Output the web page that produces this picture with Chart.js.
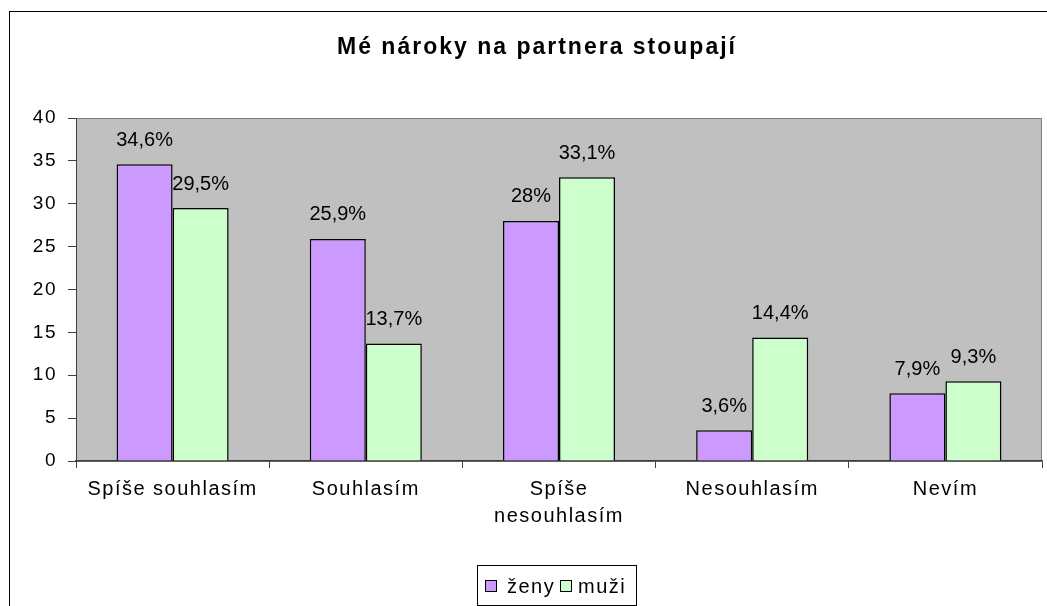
<!DOCTYPE html>
<html>
<head>
<meta charset="utf-8">
<script src="https://cdn.jsdelivr.net/npm/chart.js@4"></script>
<style>
  html, body { margin: 0; padding: 0; background: #fff; }
  #wrap { width: 1047px; height: 606px; }
</style>
</head>
<body>
<div id="wrap"><canvas id="chart" width="1047" height="606"></canvas></div>
<script>
// --- data ---
const categories = ['Spíše souhlasím', 'Souhlasím', ['Spíše', 'nesouhlasím'], 'Nesouhlasím', 'Nevím'];
const zenyValues = [34.6, 25.9, 28, 3.6, 7.9];
const muziValues = [29.5, 13.7, 33.1, 14.4, 9.3];
const seriesNames = ['ženy', 'muži'];
const yTicks = [0, 5, 10, 15, 20, 25, 30, 35, 40];
const chartTitle = 'Mé nároky na partnera stoupají';

const FONT = "'Liberation Sans', Arial, sans-serif";
const PURPLE = '#CC99FF', GREEN = '#CCFFCC', PLOT_BG = '#C0C0C0';

const fmt = v => String(v).replace('.', ',') + '%';

// frame, plot background, title, legend and value labels
const excelLook = {
  id: 'excelLook',
  beforeDraw(chart) {
    const { ctx, chartArea: a } = chart;
    ctx.save();
    ctx.fillStyle = '#fff';
    ctx.fillRect(0, 0, chart.width, chart.height);
    // outer frame (cut off at right / bottom like the original)
    ctx.strokeStyle = '#000'; ctx.lineWidth = 1;
    ctx.strokeRect(9.5, 11.5, 1100, 700);
    // plot area
    ctx.fillStyle = PLOT_BG;
    ctx.fillRect(a.left, a.top, a.right - a.left, a.bottom - a.top);
    ctx.strokeStyle = '#808080';
    ctx.strokeRect(a.left + 0.5, a.top + 0.5, a.right - a.left - 1, a.bottom - a.top);
    // title
    ctx.fillStyle = '#000';
    ctx.font = 'bold 23px ' + FONT;
    ctx.letterSpacing = '2px';
    ctx.textAlign = 'center'; ctx.textBaseline = 'middle';
    ctx.fillText(chartTitle, 537, 48);
    ctx.restore();
    // wide Excel-like spacing for the axis labels
    ctx.letterSpacing = '1.5px';
  },
  afterDatasetsDraw(chart) {
    const { ctx } = chart;
    ctx.save();
    ctx.letterSpacing = '0px';
    ctx.fillStyle = '#000';
    ctx.font = '20px ' + FONT;
    ctx.textAlign = 'center'; ctx.textBaseline = 'middle';
    chart.data.datasets.forEach((ds, di) => {
      chart.getDatasetMeta(di).data.forEach((bar, i) => {
        ctx.fillText(fmt(ds.data[i]), bar.x, bar.y - 24);
      });
    });
    ctx.restore();
  },
  afterDraw(chart) {
    const { ctx } = chart;
    ctx.save();
    // legend box
    ctx.fillStyle = '#fff';
    ctx.fillRect(477, 565, 160, 41);
    ctx.strokeStyle = '#000'; ctx.lineWidth = 1;
    ctx.strokeRect(477.5, 565.5, 159, 40);
    ctx.font = '20px ' + FONT;
    ctx.letterSpacing = '1.5px';
    ctx.textAlign = 'left'; ctx.textBaseline = 'middle';
    const items = [[485, 507], [560, 578]];
    chart.data.datasets.forEach((ds, di) => {
      const [bx, tx] = items[di];
      ctx.fillStyle = ds.backgroundColor;
      ctx.fillRect(bx, 580, 12, 12);
      ctx.strokeStyle = '#000';
      ctx.strokeRect(bx + 0.5, 580.5, 11, 11);
      ctx.fillStyle = '#000';
      ctx.fillText(ds.label, tx, 587);
    });
    ctx.restore();
  }
};

new Chart(document.getElementById('chart'), {
  type: 'bar',
  data: {
    labels: categories,
    datasets: [
      { label: seriesNames[0], data: zenyValues, backgroundColor: PURPLE, borderColor: '#000', borderWidth: 1.5 },
      { label: seriesNames[1], data: muziValues, backgroundColor: GREEN, borderColor: '#000', borderWidth: 1.5 },
    ],
  },
  options: {
    responsive: false,
    animation: false,
    layout: { padding: { left: 10, right: 5, top: 118, bottom: 0 } },
    datasets: { bar: { categoryPercentage: 0.58, barPercentage: 1 } },
    plugins: { legend: { display: false }, title: { display: false }, tooltip: { enabled: false } },
    scales: {
      x: {
        offset: true,
        grid: { offset: true, drawOnChartArea: false, tickLength: 7, color: '#404040' },
        border: { color: '#404040', width: 1.5 },
        ticks: { color: '#000', font: { family: FONT, size: 20, lineHeight: 1.35 }, padding: 8, maxRotation: 0, autoSkip: false },
        afterFit: s => { s.height = 145; },
      },
      y: {
        min: 0, max: 40,
        afterBuildTicks: s => { s.ticks = yTicks.map(v => ({ value: v })); },
        grid: { drawOnChartArea: false, tickLength: 8, color: '#404040' },
        border: { color: '#404040', width: 1 },
        ticks: { color: '#000', font: { family: FONT, size: 19 }, padding: 11 },
        afterFit: s => { s.width = 66; },
      },
    },
  },
  plugins: [excelLook],
});
</script>
</body>
</html>
